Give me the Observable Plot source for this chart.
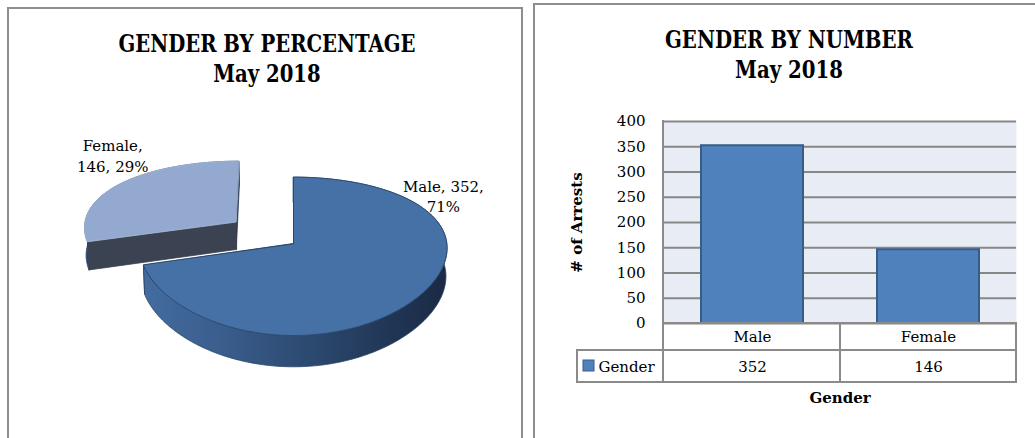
<!DOCTYPE html>
<html><head><meta charset="utf-8">
<script src="https://cdn.jsdelivr.net/npm/d3@7"></script>
<script src="https://cdn.jsdelivr.net/npm/@observablehq/plot@0.6"></script>
<style>
body{margin:0;background:#fff;}
#page{position:relative;width:1035px;height:438px;overflow:hidden;background:#fff;font-family:"DejaVu Serif","Liberation Serif",serif;}
.panel{position:absolute;border:2px solid #8e8e8e;border-bottom:none;box-sizing:border-box;}
.title{position:absolute;text-align:center;font-weight:bold;font-size:24px;line-height:30px;color:#000;white-space:nowrap;transform-origin:50% 0;}
.title span{display:inline-block;}
.chart{position:absolute;top:0;}
</style></head><body><div id="page"></div>
<script>
// ---- data ----
const genders = ["Male", "Female"];
const arrests = [352, 146];
const yTicks = [0, 50, 100, 150, 200, 250, 300, 350, 400];
const pieTitle = ["GENDER BY PERCENTAGE", "May 2018"];
const barTitle = ["GENDER BY NUMBER", "May 2018"];
const seriesName = "Gender";
const yLabel = "# of Arrests";
const xLabel = "Gender";

const FONT = "'DejaVu Serif','Liberation Serif',serif";
const ns = "http://www.w3.org/2000/svg";
const page = document.getElementById("page");

// ---------------- PIE ----------------
const total = d3.sum(arrests);
const pieRows = genders.map((g, i) => ({gender: g, value: arrests[i], pct: Math.round(arrests[i] / total * 100)}));
const arcs = d3.pie().sort(null).value(d => d.value)(pieRows);

// 3D view settings (style)
const V = {cx: 293, cy: 243, F: 810, D: 5.33, Fx: 2300, Dx: 15, alpha: 30.5 * Math.PI / 180, h: 0.22};
const S = Math.sin(V.alpha), C = Math.cos(V.alpha);
function proj(X, Y, Z) {
  const d = V.D - Y * S - Z * C, dx = V.Dx - Y * S - Z * C;
  return [V.cx + V.Fx * X / dx, V.cy + V.F * (Z * S - Y * C) / d];
}
const explode = {Male: 0, Female: 0.48};
const sliceStyle = {
  Male: {top: "#4571A6", band: "url(#maleSide)", r0: "#22344e", r1: "#22344e", edge: "#2a4466"},
  Female: {top: "#93A9CF", band: "#394355", r0: "#3B4252", r1: "#2c3a52", edge: "#a7bbdc"}
};
const labelAt = {Male: {a: 55.7, r: 1.23, brk: 2}, Female: {a: 321.4, r: 1.43, brk: 1}};

function arcPts(a0, a1, Y, o) {
  const n = Math.max(2, Math.ceil((a1 - a0) / (Math.PI / 180)));
  const pts = [];
  for (let k = 0; k <= n; k++) {
    const a = a0 + (a1 - a0) * k / n;
    pts.push(proj(o.X + Math.sin(a), Y, o.Z - Math.cos(a)));
  }
  return pts;
}
const pieMarks = [];
let bandMin = Infinity, bandMax = -Infinity;
const order = arcs.slice().sort((a, b) => explode[b.data.gender] - explode[a.data.gender]);
for (const arc of order) {
  const g = arc.data.gender, st = sliceStyle[g];
  const mid = (arc.startAngle + arc.endAngle) / 2, e = explode[g];
  const o = {X: e * Math.sin(mid), Z: -e * Math.cos(mid)};
  const h = -V.h;
  const rim = (a, Y) => proj(o.X + Math.sin(a), Y, o.Z - Math.cos(a));
  const vt = proj(o.X, 0, o.Z), vb = proj(o.X, h, o.Z);
  const top = arcPts(arc.startAngle, arc.endAngle, 0, o);
  const bot = arcPts(arc.startAngle, arc.endAngle, h, o);
  if (g === "Male") for (const p of top.concat(bot)) { bandMin = Math.min(bandMin, p[0]); bandMax = Math.max(bandMax, p[0]); }
  const faces = [
    [[vt, rim(arc.endAngle, 0), rim(arc.endAngle, h), vb], st.r1, st.r1],
    [[vt, rim(arc.startAngle, 0), rim(arc.startAngle, h), vb], st.r0, st.r0],
    [top.concat(bot.slice().reverse()), st.band, "#2a4466"],
    [[vt, ...top], st.top, st.edge]
  ];
  for (const [pts, fill, stroke] of faces) {
    pieMarks.push(Plot.line(pts, {curve: "linear-closed", fill, stroke, strokeWidth: 0.8}));
  }
}
const pieLabels = arcs.map(arc => {
  const g = arc.data.gender, L = labelAt[g], e = explode[g];
  const mid = (arc.startAngle + arc.endAngle) / 2;
  const a = L.a * Math.PI / 180;
  const p = proj(e * Math.sin(mid) + L.r * Math.sin(a), 0, -e * Math.cos(mid) - L.r * Math.cos(a));
  const parts = [g + ",", arc.data.value + ",", arc.data.pct + "%"];
  const text = parts.slice(0, L.brk).join(" ") + "\n" + parts.slice(L.brk).join(" ");
  return {x: p[0], y: p[1], text};
});
pieMarks.push(Plot.text(pieLabels, {x: "x", y: "y", text: "text", fontSize: 15, lineHeight: 1.37, fill: "#000", textAnchor: "middle", lineAnchor: "middle"}));

const pie = Plot.plot({
  width: 525, height: 438, margin: 0,
  x: {domain: [0, 525], range: [0, 525], axis: null},
  y: {domain: [0, 438], range: [0, 438], axis: null},
  style: {background: "transparent", fontFamily: FONT},
  marks: pieMarks
});
const defs = document.createElementNS(ns, "defs");
defs.innerHTML = `<linearGradient id="maleSide" gradientUnits="userSpaceOnUse" x1="${bandMin}" x2="${bandMax}" y1="0" y2="0">
<stop offset="0" stop-color="#446c9f"/><stop offset="0.25" stop-color="#3a5e8e"/><stop offset="0.55" stop-color="#2c496f"/>
<stop offset="0.85" stop-color="#1f3352"/><stop offset="1" stop-color="#1b2a44"/></linearGradient>`;
pie.insertBefore(defs, pie.firstChild);
pie.classList.add("chart");
pie.style.left = "0px";
page.appendChild(pie);

// ---------------- BAR ----------------
const barRows = genders.map((g, i) => ({gender: g, arrests: arrests[i]}));
const rowH = [27, 32], legendW = 86;
function tableMark(index, scales, values, dims) {
  const x = scales.x, bw = x.bandwidth();
  const L = dims.marginLeft, R = dims.width - dims.marginRight;
  const T = dims.marginTop, B = dims.height - dims.marginBottom;
  const r1 = B + rowH[0], r2 = r1 + rowH[1], LL = L - legendW;
  const g = document.createElementNS(ns, "g");
  const segs = [[L, T, L, r2], [L, B, R, B], [LL, r1, R, r1], [LL, r2, R, r2], [LL, r1, LL, r2]];
  for (const c of genders) segs.push([x(c) + bw, B, x(c) + bw, r2]);
  for (const [x1, y1, x2, y2] of segs) {
    const l = document.createElementNS(ns, "line");
    l.setAttribute("x1", x1); l.setAttribute("y1", y1); l.setAttribute("x2", x2); l.setAttribute("y2", y2);
    l.setAttribute("stroke", "#8a8a8a"); l.setAttribute("stroke-width", 2); l.setAttribute("stroke-linecap", "square");
    g.appendChild(l);
  }
  const sq = document.createElementNS(ns, "rect");
  sq.setAttribute("x", LL + 6); sq.setAttribute("y", r1 + 10); sq.setAttribute("width", 11); sq.setAttribute("height", 11);
  sq.setAttribute("fill", "#4F81BD"); sq.setAttribute("stroke", "#385D8A"); sq.setAttribute("stroke-width", 1);
  g.appendChild(sq);
  return g;
}
const mid = {textAnchor: "middle", lineAnchor: "middle", fontSize: 15};
const bar = Plot.plot({
  width: 505, height: 438,
  marginLeft: 133, marginRight: 19, marginTop: 121, marginBottom: 115,
  x: {domain: genders, padding: 0, axis: null},
  y: {domain: [0, 400], axis: null},
  style: {background: "transparent", fontFamily: FONT, color: "#000"},
  marks: [
    Plot.frame({fill: "#E8ECF5", stroke: "none"}),
    Plot.gridY(yTicks, {stroke: "#878787", strokeWidth: 2, strokeOpacity: 1}),
    Plot.axisY(yTicks, {tickSize: 0, tickPadding: 18, fontSize: 15, label: null}),
    Plot.barY(barRows, {x: "gender", y: "arrests", fill: "#4F81BD", stroke: "#385D8A", strokeWidth: 2, insetLeft: 37, insetRight: 37}),
    tableMark,
    Plot.text(barRows, {x: "gender", text: "gender", frameAnchor: "bottom", dy: 14, ...mid}),
    Plot.text(barRows, {x: "gender", text: d => String(d.arrests), frameAnchor: "bottom", dy: 44, ...mid}),
    Plot.text([seriesName], {frameAnchor: "bottom-left", dx: -65, dy: 44, ...mid, textAnchor: "start"}),
    Plot.text([yLabel], {frameAnchor: "left", dx: -86, rotate: -90, ...mid, fontWeight: "bold"}),
    Plot.text([xLabel], {frameAnchor: "bottom", dy: 75, ...mid, fontWeight: "bold"})
  ]
});
bar.classList.add("chart");
bar.style.left = "530px";
page.appendChild(bar);

// ---------------- titles & panels ----------------
function addTitle(lines, left, width, top, targetWidth) {
  const d = document.createElement("div");
  d.className = "title";
  d.style.left = left + "px"; d.style.width = width + "px"; d.style.top = top + "px";
  lines.forEach((s, i) => {
    if (i) d.appendChild(document.createElement("br"));
    const sp = document.createElement("span");
    sp.textContent = s;
    d.appendChild(sp);
  });
  page.appendChild(d);
  const w = d.querySelector("span").getBoundingClientRect().width;
  if (w > 0) d.style.transform = `scaleX(${targetWidth / w})`;
}
addTitle(pieTitle, 7, 520, 29, 297);
addTitle(barTitle, 533, 512, 25, 248);
function addPanel(css) {
  const d = document.createElement("div");
  d.className = "panel";
  Object.assign(d.style, css);
  page.appendChild(d);
}
addPanel({left: "7px", top: "7px", width: "516px", height: "440px"});
addPanel({left: "533px", top: "3px", width: "520px", height: "440px", borderRight: "none"});
</script></body></html>
